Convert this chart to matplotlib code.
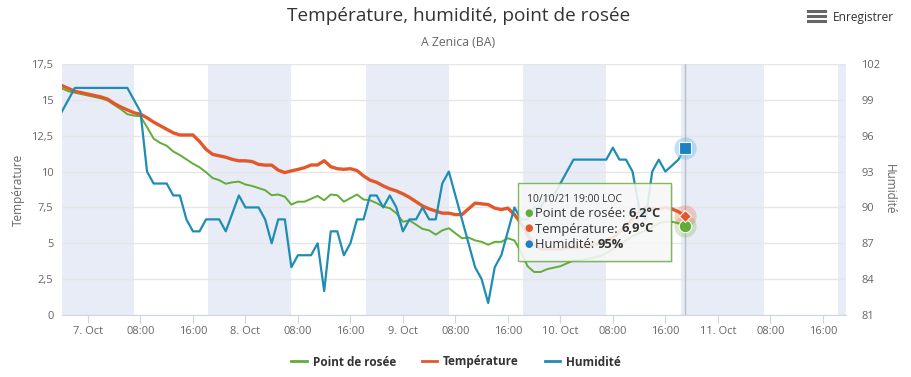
import numpy as np
import matplotlib.pyplot as plt
from matplotlib.patches import Rectangle
from matplotlib.lines import Line2D

plt.rcParams['font.family'] = ['Open Sans', 'DejaVu Sans']

# hours since 7 Oct 00:00, hourly from 6 Oct 20:00 to 10 Oct 19:00
hours = list(range(-4, 92))

dew = [15.8, 15.6, 15.5, 15.4,
       15.3, 15.2, 15.1, 14.95, 14.65, 14.35, 14.0, 13.9, 13.85, 13.1, 12.3, 12.0,
       11.8, 11.4, 11.15, 10.85, 10.55, 10.3, 9.95, 9.55, 9.4, 9.15, 9.25, 9.3,
       9.1, 9.0, 8.85, 8.7, 8.35, 8.4, 8.25, 7.7, 7.9, 7.9, 8.1, 8.3,
       8.0, 8.4, 8.35, 7.9, 8.15, 8.4, 8.05, 8.0, 7.8, 7.55, 7.45, 7.1,
       6.5, 6.6, 6.3, 6.0, 5.9, 5.6, 5.9, 6.05, 5.7, 5.35, 5.4, 5.2,
       5.1, 4.9, 5.1, 5.1, 5.35, 5.2, 4.4, 3.4, 3.0, 3.0, 3.2, 3.3,
       3.4, 3.6, 3.8, 3.8, 3.9, 4.0, 4.1, 4.3, 4.6, 4.9, 5.2, 5.5,
       5.7, 5.9, 6.1, 6.4, 6.5, 6.5, 6.4, 6.2]

temp = [16.0, 15.8, 15.6, 15.5,
        15.4, 15.3, 15.2, 15.05, 14.75, 14.5, 14.3, 14.1, 14.0, 13.75, 13.45, 13.2,
        12.95, 12.7, 12.55, 12.55, 12.55, 12.1, 11.55, 11.2, 11.1, 11.0, 10.85, 10.75,
        10.75, 10.7, 10.5, 10.45, 10.45, 10.1, 9.93, 10.05, 10.15, 10.27, 10.46, 10.46,
        10.76, 10.34, 10.2, 10.16, 10.2, 10.07, 9.7, 9.4, 9.25, 9.0, 8.8, 8.65,
        8.45, 8.2, 7.9, 7.6, 7.4, 7.25, 7.1, 7.1, 7.0, 7.0, 7.4, 7.8,
        7.75, 7.7, 7.45, 7.35, 7.45, 7.0, 6.4, 5.6, 4.9, 4.6, 4.6, 4.6,
        4.6, 4.7, 4.7, 4.7, 4.8, 4.9, 5.0, 5.2, 5.4, 5.8, 6.2, 6.7,
        7.2, 7.5, 7.4, 7.4, 7.5, 7.4, 7.2, 6.9]

hum = [98, 99, 100, 100,
       100, 100, 100, 100, 100, 100, 100, 99, 98, 93, 92, 92,
       92, 91, 91, 89, 88, 88, 89, 89, 89, 88, 89.5, 91,
       90, 90, 90, 89, 87, 89, 89, 85, 86, 86, 86, 87,
       83, 88, 88, 86, 87, 89, 89, 91, 91, 90, 91, 90,
       88, 89, 89, 90, 89, 89, 92, 93, 91, 89, 87, 85,
       84, 82, 85, 86, 88, 90, 89, 89, 90, 90, 91, 91,
       92, 93, 94, 94, 94, 94, 94, 94, 95, 94, 94, 93,
       90, 89, 93, 94, 93, 93.5, 94, 95]

# night bands (hours since 7 Oct 00:00)
nights = [(-4, 7), (18.33, 31), (42.33, 55), (66.33, 79), (90.33, 103), (114.33, 115.5)]

xtick_pos = list(range(0, 113, 8))
xtick_lab = ['7. Oct', '08:00', '16:00', '8. Oct', '08:00', '16:00', '9. Oct', '08:00',
             '16:00', '10. Oct', '08:00', '16:00', '11. Oct', '08:00', '16:00']
temp_ticks = [0, 2.5, 5, 7.5, 10, 12.5, 15, 17.5]
hum_ticks = [81, 84, 87, 90, 93, 96, 99, 102]

c_dew = '#62ad37'
c_temp = '#e2582a'
c_hum = '#1f8db3'

W, H = 912, 377
fig = plt.figure(figsize=(W / 100, H / 100), dpi=100)
ax = fig.add_axes([61.75 / W, 62 / H, 784 / W, 251 / H])
ax2 = ax.twinx()

for a, b in nights:
    ax.axvspan(a, b, color='#e8ecf6', lw=0, zorder=0)

ax.set_xlim(-4, 115.5)
ax.set_ylim(0, 17.5)
ax2.set_ylim(81, 102)

ax.set_yticks(temp_ticks)
ax.set_yticklabels([f'{v:g}'.replace('.', ',') for v in temp_ticks])
ax2.set_yticks(hum_ticks)
ax.set_xticks(xtick_pos)
ax.set_xticklabels(xtick_lab)

ax.yaxis.grid(True, color='#e6e6e6', lw=1, zorder=0.5)
ax.set_axisbelow(True)
for a in (ax, ax2):
    for s in a.spines.values():
        s.set_visible(False)
ax.spines['bottom'].set_visible(True)
ax.spines['bottom'].set_color('#ccd6eb')

ax.tick_params(axis='x', length=6, color='#ccd6eb', labelcolor='#666666', labelsize=8, pad=2)
ax.tick_params(axis='y', length=0, labelcolor='#666666', labelsize=8, pad=6)
ax2.tick_params(axis='y', length=0, labelcolor='#666666', labelsize=8, pad=11)

ax.set_ylabel('Température', color='#666666', fontsize=8.5)
ax.yaxis.set_label_coords(-0.047, 0.5)
ax2.set_ylabel('Humidité', color='#666666', fontsize=8.5, rotation=270, va='bottom')
ax2.yaxis.set_label_coords(1.047, 0.5)

# crosshair
ax.axvline(hours[-1], color='#b8bcc8', lw=1, zorder=1)

ax.plot(hours, dew, color=c_dew, lw=1.4, zorder=3)
ax.plot(hours, temp, color=c_temp, lw=2.4, zorder=4, solid_capstyle='round')
ax2.plot(hours, hum, color=c_hum, lw=1.6, zorder=3)

# hovered points
ax.plot(hours[-1], dew[-1], 'o', ms=16, color=c_dew, alpha=0.25, mec='none', zorder=5)
ax.plot(hours[-1], dew[-1], 'o', ms=9, color=c_dew, mec='white', mew=0.8, zorder=6)
ax.plot(hours[-1], temp[-1], 'o', ms=16, color=c_temp, alpha=0.25, mec='none', zorder=5)
ax.plot(hours[-1], temp[-1], 'D', ms=6.5, color=c_temp, mec='white', mew=0.8, zorder=6)
ax2.plot(hours[-1], hum[-1], 'o', ms=16, color='#7cc4ee', alpha=0.5, mec='none', zorder=5)
ax2.plot(hours[-1], hum[-1], 's', ms=8.5, color='#1a82c4', mec='white', mew=0.8, zorder=6)

# titles
fig.text(459 / W, 1 - 16 / H, 'Température, humidité, point de rosée', ha='center', va='center',
         fontsize=13.7, color='#333333')
fig.text(458 / W, 1 - 42 / H, 'A Zenica (BA)', ha='center', va='center', fontsize=8.8,
         color='#666666')
fig.text(833 / W, 1 - 17 / H, 'Enregistrer', ha='left', va='center', fontsize=8.6,
         color='#333333')
for yy in (11, 16, 21):
    fig.add_artist(Line2D([808 / W, 825 / W], [1 - yy / H, 1 - yy / H], color='#666666', lw=2.2))

# legend
handles = [Line2D([], [], color=c_dew, lw=2), Line2D([], [], color=c_temp, lw=2),
           Line2D([], [], color=c_hum, lw=2)]
leg = fig.legend(handles, ['Point de rosée', 'Température', 'Humidité'], loc='center',
                 bbox_to_anchor=(0.5, 1 - 362 / H), ncol=3, frameon=False, handlelength=1.3,
                 handletextpad=0.5, columnspacing=2.2, prop={'weight': 'bold', 'size': 8.5})
for t in leg.get_texts():
    t.set_color('#333333')

# tooltip
x0, y0, x1, y1 = 518, 183, 671, 261
fig.add_artist(Rectangle((x0 / W + 0.002, 1 - (y1 + 2) / H), (x1 - x0) / W, (y1 - y0) / H,
                         transform=fig.transFigure, facecolor='#000000', alpha=0.07,
                         lw=0, zorder=9))
fig.add_artist(Rectangle((x0 / W, 1 - y1 / H), (x1 - x0) / W, (y1 - y0) / H,
                         transform=fig.transFigure, facecolor='#f9f9f9', alpha=0.88,
                         edgecolor='#6fb04a', lw=1, zorder=10))
fig.text(527 / W, 1 - 199 / H, '10/10/21 19:00 LOC', fontsize=7.5, color='#333333',
         va='center', zorder=11)
renderer = fig.canvas.get_renderer()
rows = [(c_dew, 'Point de rosée: ', '6,2°C', 214), (c_temp, 'Température: ', '6,9°C', 229),
        ('#1a82c4', 'Humidité: ', '95%', 244)]
for col, lab, val, yy in rows:
    fig.text(524 / W, 1 - yy / H, '●', fontsize=7, color=col, va='center', zorder=11)
    t = fig.text(535 / W, 1 - yy / H, lab, fontsize=9.3, color='#333333', va='center', zorder=11)
    bb = t.get_window_extent(renderer)
    fig.text(bb.x1 / W, 1 - yy / H, val, fontsize=9.3, color='#333333', weight='bold',
             va='center', zorder=11)

fig.savefig('out.png', dpi=100)
